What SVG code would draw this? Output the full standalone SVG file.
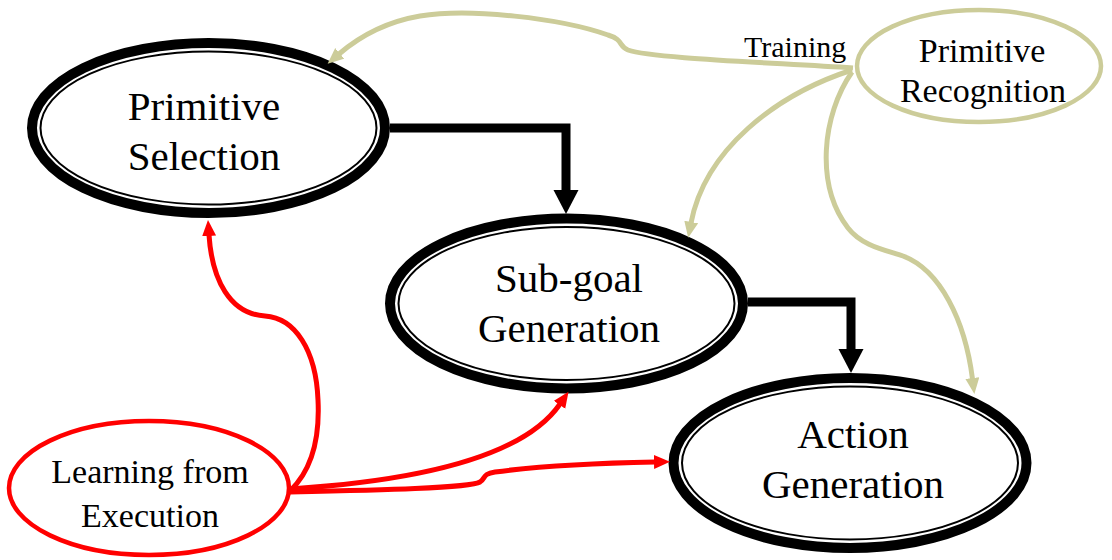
<svg xmlns="http://www.w3.org/2000/svg" width="1112" height="560" viewBox="0 0 1112 560">
  <style>
    .lbl { font-family: "Liberation Serif", "Times New Roman", serif; fill: #000; text-anchor: middle; }
    .big { font-size: 41px; }
    .small { font-size: 34px; }
    .tag { font-size: 30px; text-anchor: start; }
    .outer { fill: #fff; stroke: #000; stroke-width: 10; }
    .inner { fill: none; stroke: #000; stroke-width: 2; }
    .gold { fill: none; stroke: #CCCC99; stroke-width: 5; }
    .red { fill: none; stroke: #FF0000; stroke-width: 5; }
    .flow { fill: none; stroke: #000; stroke-width: 9; stroke-linejoin: miter; }
  </style>
  <defs>
    <marker id="headBlack" markerUnits="userSpaceOnUse" markerWidth="26" markerHeight="26" refX="0" refY="12.5" orient="auto">
      <path d="M0,0 L24,12.5 L0,25 z" fill="#000"/>
    </marker>
    <marker id="headGold" markerUnits="userSpaceOnUse" markerWidth="18" markerHeight="16" refX="1" refY="7" orient="auto">
      <path d="M0,0 L16,7 L0,14 z" fill="#CCCC99"/>
    </marker>
    <marker id="headRed" markerUnits="userSpaceOnUse" markerWidth="18" markerHeight="16" refX="1" refY="7" orient="auto">
      <path d="M0,0 L16,7 L0,14 z" fill="#FF0000"/>
    </marker>
  </defs>

  <rect width="1112" height="560" fill="#fff"/>

  <!-- nodes -->
  <g id="primitive-selection">
    <ellipse class="outer" cx="208.5" cy="128" rx="176.5" ry="85"/>
    <ellipse class="inner" cx="208.5" cy="128" rx="168" ry="76.5"/>
    <text class="lbl big" x="204" y="120">Primitive</text>
    <text class="lbl big" x="204" y="170">Selection</text>
  </g>

  <g id="subgoal-generation">
    <ellipse class="outer" cx="566.5" cy="303.5" rx="176.5" ry="85"/>
    <ellipse class="inner" cx="566.5" cy="303.5" rx="168" ry="76.5"/>
    <text class="lbl big" x="569" y="292">Sub-goal</text>
    <text class="lbl big" x="569" y="342">Generation</text>
  </g>

  <g id="action-generation">
    <ellipse class="outer" cx="850" cy="463" rx="176.5" ry="85"/>
    <ellipse class="inner" cx="850" cy="463" rx="168" ry="76.5"/>
    <text class="lbl big" x="853" y="448">Action</text>
    <text class="lbl big" x="853" y="498">Generation</text>
  </g>

  <g id="primitive-recognition">
    <ellipse cx="979" cy="66" rx="122" ry="56" fill="#fff" stroke="#CCCC99" stroke-width="4.5"/>
    <text class="lbl small" x="982" y="62">Primitive</text>
    <text class="lbl small" x="983" y="102">Recognition</text>
  </g>

  <g id="learning-from-execution">
    <ellipse cx="149" cy="488" rx="140" ry="67" fill="#fff" stroke="#FF0000" stroke-width="4.5"/>
    <text class="lbl small" x="150" y="483">Learning from</text>
    <text class="lbl small" x="150" y="527">Execution</text>
  </g>

  <!-- connectors -->
  <g id="connectors">
    <path class="flow" d="M 390 128 H 566 V 190" marker-end="url(#headBlack)"/>
    <path class="flow" d="M 748 302 H 851 V 349" marker-end="url(#headBlack)"/>

    <path class="gold" d="M 853 68 C 760 62, 650 58, 628 50 C 618 46, 624 40, 608 35 C 560 18, 470 8, 420 16 C 385 22, 360 36, 339 54" marker-end="url(#headGold)"/>
    <path class="gold" d="M 852 70 C 775 95, 705 150, 691 223" marker-end="url(#headGold)"/>
    <path class="gold" d="M 852 72 C 822 115, 815 185, 848 228 C 862 246, 885 250, 903 256 C 940 270, 965 320, 972.5 379" marker-end="url(#headGold)"/>
    <text class="lbl tag" x="744" y="57">Training</text>

    <path class="red" d="M 290 491 C 312 470, 320 440, 318 400 C 316 350, 295 318, 265 316 C 230 314, 212 280, 209 235" marker-end="url(#headRed)"/>
    <path class="red" d="M 290 489 C 400 482, 520 462, 560 404" marker-end="url(#headRed)"/>
    <path class="red" d="M 290 492 C 380 490, 470 488, 480 482 C 486 478, 482 474, 495 472 C 540 466, 600 463, 655 462" marker-end="url(#headRed)"/>

    <path d="M 197 39 L 206 39 L 202 46 z" fill="#000"/>
  </g>
</svg>
